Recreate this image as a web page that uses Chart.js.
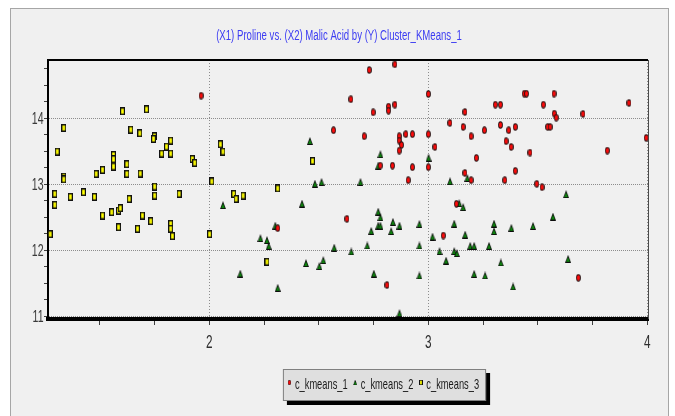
<!DOCTYPE html>
<html>
<head>
<meta charset="utf-8">
<script src="https://cdn.jsdelivr.net/npm/chart.js@4.4.0/dist/chart.umd.min.js"></script>
<style>
  html, body { margin: 0; padding: 0; background: #ffffff; width: 675px; height: 416px; overflow: hidden; }
  #panel { position: absolute; left: 10px; top: 8px; width: 657px; height: 420px; background: #f0f0f0; border: 1px solid #a6a6a6; border-bottom: none; }
  #chart { position: absolute; left: 0; top: 0; }
</style>
</head>
<body>
<div id="panel"></div>
<canvas id="chart" width="675" height="416"></canvas>
<script>
// ---- chart data ----
const TITLE = '(X1) Proline vs. (X2) Malic Acid by (Y) Cluster_KMeans_1';
const SERIES_NAMES = ['c_kmeans_1', 'c_kmeans_2', 'c_kmeans_3'];

const C1_X = [1.962, 2.730, 2.847, 3.000, 2.646, 2.748, 2.818, 2.818, 2.847, 2.567, 2.707, 2.867, 2.867, 2.877, 2.867, 2.897,
  2.927, 3.000, 2.836, 2.927, 3.000, 2.780, 2.908, 2.312, 2.628, 2.811, 3.438, 3.448, 3.574, 3.916, 3.306, 3.329, 3.525,
  3.167, 3.575, 3.584, 3.706, 3.098, 3.159, 3.329, 3.397, 3.545, 3.556, 3.256, 3.367, 3.195, 3.355, 3.378, 3.030, 3.464,
  3.817, 3.995, 3.219, 3.167, 3.195, 3.349, 3.397, 3.495, 3.519, 3.128, 3.068, 3.685];
const C1_Y = [14.342, 14.732, 14.818, 14.368, 14.288, 14.090, 14.176, 14.115, 14.206, 13.818, 13.727, 13.727, 13.661, 13.595,
  13.509, 13.758, 13.758, 13.758, 13.282, 13.258, 13.258, 13.282, 13.061, 12.333, 12.474, 11.470, 14.373, 14.373, 14.373,
  14.232, 14.206, 14.206, 14.206, 14.095, 14.070, 14.009, 14.065, 13.929, 13.868, 13.898, 13.868, 13.868, 13.868, 13.818,
  13.818, 13.727, 13.652, 13.565, 13.565, 13.479, 13.509, 13.702, 13.398, 13.171, 13.061, 13.061, 13.202, 13.005, 12.955,
  12.702, 12.221, 11.580];

const C2_X = [2.062, 2.459, 2.781, 2.771, 3.001, 2.482, 2.512, 2.690, 2.423, 2.771, 2.781, 2.771, 2.781, 2.838, 2.868, 2.830,
  2.739, 2.959, 2.301, 2.233, 2.263, 2.271, 2.570, 2.648, 2.721, 2.959, 2.441, 2.502, 2.520, 2.141, 2.751, 2.959, 2.312,
  2.868, 3.099, 3.178, 3.629, 3.141, 3.159, 3.118, 3.019, 3.168, 3.300, 3.300, 3.379, 3.478, 3.569, 3.191, 3.209, 3.277,
  3.051, 3.118, 3.130, 3.081, 3.331, 3.638, 3.209, 3.259, 3.387];
const C2_Y = [12.682, 13.656, 13.455, 13.282, 13.403, 13.009, 13.035, 13.035, 12.706, 12.585, 12.500, 12.373, 12.373, 12.429,
  12.373, 12.288, 12.292, 12.398, 12.373, 12.182, 12.152, 12.065, 12.039, 11.979, 12.070, 12.070, 11.803, 11.758, 11.848,
  11.645, 11.645, 11.615, 11.429, 11.045, 13.045, 13.095, 12.848, 12.712, 12.652, 12.403, 12.206, 12.236, 12.403, 12.288,
  12.338, 12.368, 12.509, 12.065, 12.065, 12.065, 11.985, 11.985, 11.955, 11.842, 11.812, 11.868, 11.641, 11.615, 11.448];

const C3_X = [1.603, 1.713, 1.335, 1.641, 1.682, 1.749, 1.745, 1.305, 1.562, 1.562, 1.562, 1.623, 1.623, 1.782, 1.804, 1.823,
  1.823, 1.922, 1.933, 1.483, 1.512, 1.684, 1.335, 1.335, 1.294, 1.365, 1.425, 1.475, 1.634, 1.750, 1.750, 1.862, 2.011,
  2.050, 2.062, 1.294, 1.512, 1.554, 1.585, 1.593, 1.585, 1.672, 1.694, 1.732, 1.823, 1.823, 1.831, 1.273, 2.001, 2.471,
  2.312, 2.111, 2.122, 2.154, 2.263];
const C3_Y = [14.106, 14.136, 13.853, 13.827, 13.773, 13.727, 13.686, 13.494, 13.444, 13.379, 13.267, 13.303, 13.156, 13.464,
  13.570, 13.661, 13.464, 13.383, 13.323, 13.156, 13.217, 13.161, 13.115, 13.073, 12.853, 12.808, 12.879, 12.808, 12.777,
  12.964, 12.827, 12.853, 13.042, 13.606, 13.494, 12.686, 12.524, 12.576, 12.600, 12.636, 12.348, 12.323, 12.524, 12.439,
  12.398, 12.323, 12.212, 12.242, 12.242, 13.353, 12.936, 12.853, 12.777, 12.827, 11.823];

// axis ticks (quarter steps) and the labelled major values
const X_TICKS = [1.5, 1.75, 2, 2.25, 2.5, 2.75, 3, 3.25, 3.5, 3.75, 4];
const Y_TICKS = [11, 11.25, 11.5, 11.75, 12, 12.25, 12.5, 12.75, 13, 13.25, 13.5, 13.75, 14, 14.25, 14.5, 14.75];
const X_TICK_VALUES = [2, 3, 4];
const X_TICK_LABELS = ['2', '3', '4'];
const Y_TICK_VALUES = [11, 12, 13, 14];
const Y_TICK_LABELS = ['11', '12', '13', '14'];

// ---- marker glyphs ----
function makeMarker(w, h, paint) {
  const c = document.createElement('canvas');
  c.width = w; c.height = h;
  paint(c.getContext('2d'), w, h);
  return c;
}
const MARK_DOT = makeMarker(5, 8, (g, w, h) => {
  g.beginPath(); g.ellipse(w / 2, h / 2, w / 2 - 0.1, h / 2 - 0.2, 0, 0, Math.PI * 2);
  g.fillStyle = '#2a1010'; g.fill();
  g.beginPath(); g.ellipse(w / 2, h / 2, w / 2 - 1.0, h / 2 - 1.3, 0, 0, Math.PI * 2);
  g.fillStyle = '#ff0a0a'; g.fill();
});
const MARK_TRI = makeMarker(6, 8, (g, w, h) => {
  g.beginPath(); g.moveTo(w / 2, 0); g.lineTo(w, h); g.lineTo(0, h); g.closePath();
  g.fillStyle = '#0c0c0c'; g.fill();
  g.beginPath(); g.moveTo(w / 2, 2.3); g.lineTo(w - 1.1, h - 1.1); g.lineTo(1.1, h - 1.1); g.closePath();
  g.fillStyle = '#0d820d'; g.fill();
});
const MARK_BOX = makeMarker(5, 8, (g, w, h) => {
  g.fillStyle = '#111111'; g.fillRect(0, 0, w, h);
  g.fillStyle = '#ffff00'; g.fillRect(1.2, 1.5, w - 2.4, h - 3);
});

const pairs = (xs, ys) => xs.map((x, i) => ({ x, y: ys[i] }));

// ---- condensed text helper ----
const SQUEEZE = 0.62;
const FONT_FAMILY = '"Liberation Sans", Arial, sans-serif';
function squeezedText(ctx, text, x, y, size, color, align) {
  ctx.save();
  ctx.font = size + 'px ' + FONT_FAMILY;
  ctx.fillStyle = color;
  ctx.textAlign = 'left';
  ctx.textBaseline = 'alphabetic';
  const w = ctx.measureText(text).width * SQUEEZE;
  let left = x;
  if (align === 'center') left = x - w / 2;
  else if (align === 'right') left = x - w;
  ctx.translate(left, y);
  ctx.scale(SQUEEZE, 1);
  ctx.fillText(text, 0, 0);
  ctx.restore();
  return w;
}

// frame, tick labels, title and boxed legend
const decorations = {
  id: 'decorations',
  afterDraw(chart) {
    const { ctx, chartArea: a } = chart;
    const xs = chart.scales.x, ys = chart.scales.y;

    ctx.save();
    ctx.fillStyle = '#000000';
    ctx.fillRect(a.left - 1, a.top - 1, a.right - a.left + 1, 2);
    ctx.fillStyle = '#4a4a4a';
    ctx.fillRect(a.right, a.top, 1, a.bottom - a.top);
    ctx.restore();

    Y_TICK_VALUES.forEach((v, i) =>
      squeezedText(ctx, Y_TICK_LABELS[i], a.left - 4.5, ys.getPixelForValue(v) + 6, 17, '#3a3a3a', 'right'));
    X_TICK_VALUES.forEach((v, i) =>
      squeezedText(ctx, X_TICK_LABELS[i], xs.getPixelForValue(v), a.bottom + 28.5, 19, '#2e2e2e', 'center'));

    squeezedText(ctx, TITLE, 339, 40, 15.5, '#3c3cf2', 'center');

    // legend
    const size = 15;
    ctx.save();
    ctx.font = size + 'px ' + FONT_FAMILY;
    const items = chart.data.datasets.map(ds => ({
      label: ds.label, mark: ds.pointStyle, w: ctx.measureText(ds.label).width * SQUEEZE
    }));
    ctx.restore();
    let boxW = 4;
    items.forEach((it, i) => { boxW += 8 + it.w + (i < items.length - 1 ? 5 : 7); });
    const boxH = 32, boxTop = 369;
    const boxLeft = 384.5 - boxW / 2;
    ctx.save();
    ctx.fillStyle = '#000000';
    ctx.fillRect(boxLeft + 4, boxTop + 4, boxW, boxH);
    ctx.fillStyle = '#dfdfdf';
    ctx.fillRect(boxLeft, boxTop, boxW, boxH);
    ctx.strokeStyle = '#808080';
    ctx.lineWidth = 1;
    ctx.strokeRect(boxLeft + 0.5, boxTop + 0.5, boxW - 1, boxH - 1);
    ctx.restore();
    let x = boxLeft + 4;
    const midY = boxTop + 13.5;
    items.forEach(it => {
      const mw = it.mark.width * 0.7, mh = it.mark.height * 0.7;
      ctx.drawImage(it.mark, x + 2.5 - mw / 2, midY - mh / 2, mw, mh);
      squeezedText(ctx, it.label, x + 8, boxTop + 20, size, '#1a1a1a', 'left');
      x += 8 + it.w + 5;
    });
  }
};

const isMajor = t => t && Number.isInteger(t.value);

new Chart(document.getElementById('chart'), {
  type: 'scatter',
  data: {
    datasets: [
      { label: SERIES_NAMES[0], data: pairs(C1_X, C1_Y), pointStyle: MARK_DOT, pointRadius: 4 },
      { label: SERIES_NAMES[1], data: pairs(C2_X, C2_Y), pointStyle: MARK_TRI, pointRadius: 4 },
      { label: SERIES_NAMES[2], data: pairs(C3_X, C3_Y), pointStyle: MARK_BOX, pointRadius: 4 }
    ]
  },
  options: {
    responsive: false,
    animation: false,
    devicePixelRatio: 1,
    events: [],
    layout: { padding: { left: 0, right: 27, top: 60, bottom: 0 } },
    plugins: { legend: { display: false }, title: { display: false }, tooltip: { enabled: false } },
    scales: {
      x: {
        type: 'linear', position: 'bottom', min: 1.263, max: 4.003,
        afterBuildTicks: s => { s.ticks = X_TICKS.map(v => ({ value: v })); },
        afterFit: s => { s.height = 97; },
        ticks: { display: false },
        grid: {
          color: c => isMajor(c.tick) ? '#8c8c8c' : 'rgba(0,0,0,0)',
          tickColor: '#404040', tickLength: 6, lineWidth: 1
        },
        border: { color: '#000000', width: 4, dash: [1, 2] }
      },
      y: {
        type: 'linear', position: 'left', min: 10.955, max: 14.883,
        afterBuildTicks: s => { s.ticks = Y_TICKS.map(v => ({ value: v })); },
        afterFit: s => { s.width = 48; },
        ticks: { display: false },
        grid: {
          color: c => isMajor(c.tick) ? '#8c8c8c' : 'rgba(0,0,0,0)',
          tickColor: '#404040', tickLength: 4, lineWidth: 1
        },
        border: { color: '#000000', width: 2, dash: [1, 1] }
      }
    }
  },
  plugins: [decorations]
});
</script>
</body>
</html>
